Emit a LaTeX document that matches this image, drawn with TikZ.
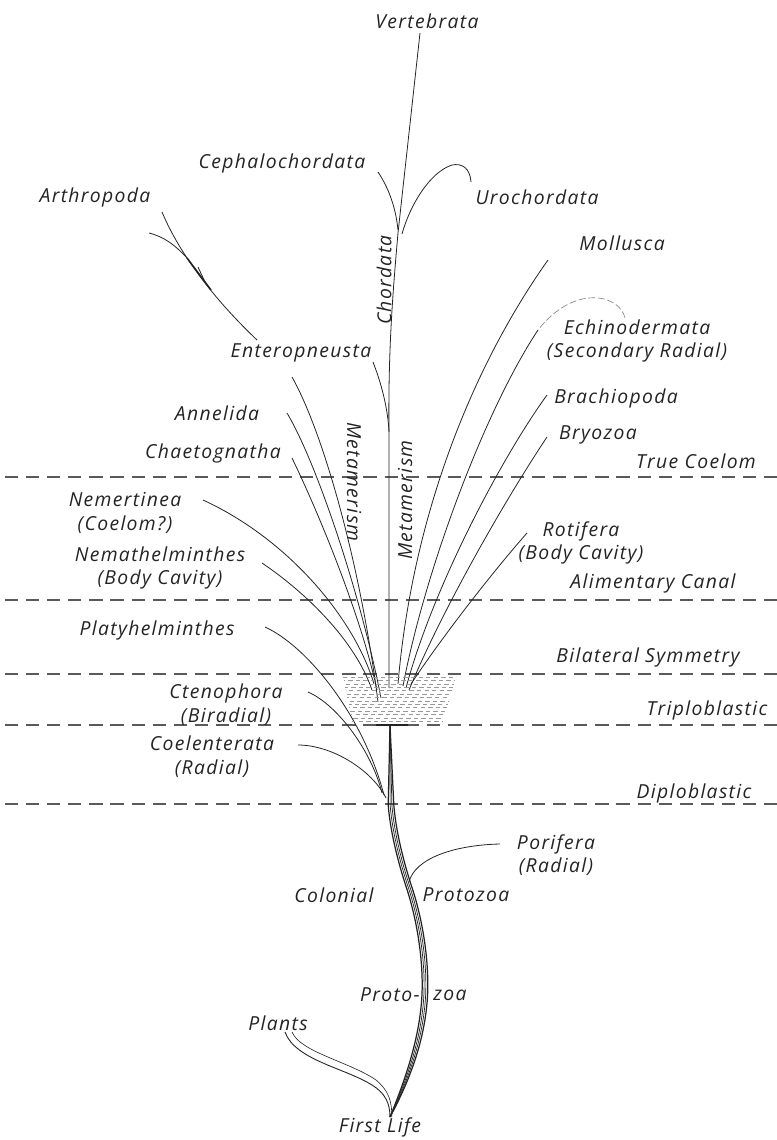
\documentclass[tikz,border=0pt]{standalone}
\usepackage{fontspec}
\newfontfamily\lblfont{Open Sans}[LetterSpace=7]
\usetikzlibrary{positioning}
\definecolor{ink}{RGB}{35,35,35}
\tikzset{
    lbl/.style={font=\lblfont\itshape\fontsize{11}{13.5}\selectfont,
        inner sep=0pt,align=center,text=ink},
    branch/.style={line width=0.45pt,draw=ink},
    faint/.style={line width=0.35pt,draw=gray,dash pattern=on 4pt off 1.5pt},
    levelline/.style={line width=0.6pt,draw=ink!75,dash pattern=on 7.5pt off 4.5pt},
    strand/.style={line width=0.5pt,draw=ink},
    hatchrow/.style={line width=0.35pt,draw=gray!80,dash pattern=on 2.5pt off 1.8pt}
}

\begin{document}
\begin{tikzpicture}[x=0.02cm,y=-0.02cm]
\useasboundingbox (0,0) rectangle (777,1140);

% levels of organisation
\foreach \yy/\lv in {477/coelom,600/canal,674/bilat,725/tripl,804/diplo}
    \draw[levelline] (5,\yy) coordinate (\lv-w) -- (777,\yy) coordinate (\lv-e);

\node[lbl] (tcoel) at (696,461) {True Coelom};
\node[lbl] (canal) at (653,583) {Alimentary Canal};
\node[lbl] (bilat) at (648,657) {Bilateral Symmetry};
\node[lbl] (tripl) at (707,710) {Triploblastic};
\node[lbl] (diplo) at (694,793) {Diploblastic};

% group names
\node[lbl] (vert) at (427,21) {Vertebrata};
\node[lbl] (ceph) at (282,163) {Cephalochordata};
\node[lbl] (uro) at (537,197) {Urochordata};
\node[lbl] (arth) at (95,197) {Arthropoda};
\node[lbl] (moll) at (622,243) {Mollusca};
\node[lbl,rotate=90] (chord) at (384,280) {Chordata};
\node[lbl] (echi) at (637,341) {Echinodermata\\(Secondary Radial)};
\node[lbl] (entero) at (301,353) {Enteropneusta};
\node[lbl] (brach) at (616,398) {Brachiopoda};
\node[lbl] (anne) at (217,413) {Annelida};
\node[lbl] (bryo) at (598,435) {Bryozoa};
\node[lbl] (chaeto) at (213,453) {Chaetognatha};
\node[lbl,rotate=-90] (metaL) at (354,482) {Metamerism};
\node[lbl,rotate=90] (metaR) at (405,500) {Metamerism};
\node[lbl] (nemert) at (125,513) {Nemertinea\\(Coelom?)};
\node[lbl] (roti) at (581,543) {Rotifera\\(Body Cavity)};
\node[lbl] (nemath) at (160,568) {Nemathelminthes\\(Body Cavity)};
\node[lbl] (platy) at (157,630) {Platyhelminthes};
\node[lbl] (cteno) at (226,705) {Ctenophora\\(Biradial)};
\node[lbl] (coel) at (212,757) {Coelenterata\\(Radial)};
\node[lbl] (pori) at (556,855) {Porifera\\(Radial)};
\node[lbl] (colon) at (334,895) {Colonial};
\node[lbl] (protoz) at (466,895) {Protozoa};
\node[lbl,anchor=east] (protoA) at (420,995) {Proto-};
\node[lbl,anchor=west] (protoB) at (433,995) {zoa};
\node[lbl] (plants) at (278,1023) {Plants};
\node[lbl] (first) at (380,1127) {First Life};

% tips and roots of the branches
\coordinate (vertT) at (420,33);   \coordinate (vertR) at (389,688);
\coordinate (cephT) at (378,172);  \coordinate (cephR) at (398,230);
\coordinate (uroT) at (471,182);   \coordinate (uroR) at (402,234);
\coordinate (entT) at (373,362);   \coordinate (entR) at (389,432);
\coordinate (arthT) at (162,212);  \coordinate (arthA) at (257,340);
\coordinate (arthB) at (292,377);  \coordinate (arthR) at (378,702);
\coordinate (arthS) at (149,233);
\coordinate (anneT) at (287,413);  \coordinate (anneR) at (381,698);
\coordinate (chaeT) at (292,458);  \coordinate (chaeR) at (377,690);
\coordinate (nemeT) at (203,500);  \coordinate (nemeR) at (374,684);
\coordinate (nemaT) at (262,563);  \coordinate (nemaR) at (372,690);
\coordinate (mollT) at (548,260);  \coordinate (mollR) at (398,684);
\coordinate (echiA) at (625,318);  \coordinate (echiB) at (538,330);
\coordinate (echiR) at (403,686);
\coordinate (brachT) at (547,395); \coordinate (brachR) at (406,688);
\coordinate (bryoT) at (547,437);  \coordinate (bryoR) at (409,690);
\coordinate (rotiT) at (527,533);  \coordinate (rotiR) at (411,684);
\coordinate (platyT) at (265,627); \coordinate (platyR) at (384,795);
\coordinate (ctenT) at (308,692);  \coordinate (ctenR) at (382,793);
\coordinate (coelT) at (298,745);  \coordinate (coelR) at (386,798);
\coordinate (poriT) at (500,844);  \coordinate (poriR) at (409,882);
\coordinate (trunkT) at (390,725); \coordinate (trunkB) at (390,1117);
\coordinate (plantT) at (285,1032);

% chordate stem
\draw[branch] (vertT) -- (398,233) .. controls (393,290) and (388,350) .. (entR) -- (vertR);
\draw[branch] (cephT) .. controls (390,190) and (396,210) .. (cephR);
\draw[branch] (uroT) .. controls (470,168) and (462,163) .. (452,165)
    .. controls (430,172) and (410,205) .. (uroR);
\draw[branch] (entT) .. controls (382,385) and (388,410) .. (entR);

% left fan
\draw[branch] (arthT) .. controls (180,255) and (215,300) .. (arthA);
\draw[branch,line width=0.9pt] (187,258) -- (211,290);
\draw[branch] (arthS) .. controls (165,237) and (176,246) .. (187,258);
\draw[branch] (198,267) -- (205,282);
\draw[branch] (arthB) .. controls (322,430) and (360,560) .. (arthR);
\draw[branch] (anneT) .. controls (318,465) and (362,600) .. (anneR);
\draw[branch] (chaeT) .. controls (322,520) and (362,620) .. (chaeR);
\draw[branch] (nemeT) .. controls (290,540) and (355,620) .. (nemeR);
\draw[branch] (nemaT) .. controls (305,592) and (355,640) .. (nemaR);

% right fan
\draw[branch] (mollT) .. controls (470,370) and (412,520) .. (mollR);
\draw[faint] (echiA) .. controls (620,295) and (575,283) .. (echiB);
\draw[branch] (echiB) .. controls (485,410) and (425,570) .. (echiR);
\draw[branch] (brachT) .. controls (500,460) and (432,590) .. (brachR);
\draw[branch] (bryoT) .. controls (505,500) and (442,610) .. (bryoR);
\draw[branch] (rotiT) .. controls (490,575) and (440,640) .. (rotiR);

% lower branches
\draw[branch] (platyT) .. controls (305,645) and (362,712) .. (platyR);
\draw[branch] (ctenT) .. controls (338,705) and (372,752) .. (ctenR);
\draw[branch] (coelT) .. controls (332,745) and (372,770) .. (coelR);
\draw[branch] (poriT) .. controls (455,845) and (415,858) .. (poriR);

% triploblastic zone
\foreach \i in {0,...,13}{
    \pgfmathsetmacro\hy{677+3.4*\i}
    \pgfmathsetmacro\ha{343+0.7*\i}
    \pgfmathsetmacro\hb{456-1.0*\i}
    \pgfmathsetmacro\hp{mod(\i*1.7,4.3)}
    \draw[hatchrow,dash phase=\hp pt] (\ha,\hy) -- (\hb,\hy);
}
\draw[strand,line width=0.9pt] (376,725) -- (408,725);

% trunk
\foreach \s/\w in {-1.6pt/0.7pt,-0.5pt/0.4pt,0.5pt/0.4pt,1.6pt/0.7pt}
    \draw[strand,line width=\w,xshift=\s] (trunkT) -- (391,805)
        .. controls (393,830) and (400,860) .. (410,890)
        .. controls (418,915) and (425,950) .. (425,985)
        .. controls (425,1030) and (410,1075) .. (trunkB);

% plants
\draw[strand] (plantT) .. controls (295,1060) and (345,1068) .. (372,1085)
    .. controls (385,1093) and (390,1103) .. (trunkB);
\draw[strand,line width=0.35pt] ([xshift=4pt]plantT) .. controls (300,1052) and (350,1062) .. (376,1080)
    .. controls (388,1090) and (392,1100) .. ([xshift=1pt]trunkB);

\end{tikzpicture}
\end{document}
